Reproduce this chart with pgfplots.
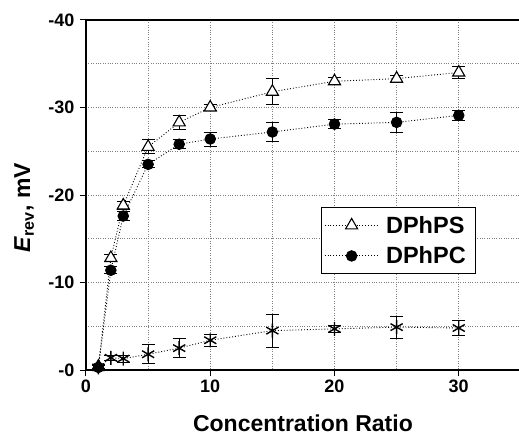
\documentclass[border=0pt]{standalone}
\usepackage{fontspec}
\setmainfont{Liberation Sans}
\usepackage{pgfplots}
\pgfplotsset{compat=1.18}
\usetikzlibrary{calc}
\begin{document}
\begin{tikzpicture}
\begin{axis}[
  scale only axis, width=433pt, height=350pt,
  xmin=0, xmax=34.85, ymin=-40, ymax=0, y dir=reverse,
  axis x line*=box, axis y line*=left,
  axis line style={line width=1.1pt},
  xtick={0,10,20,30}, xticklabels={0,10,20,30},
  minor xtick={5,15,25},
  ytick={-40,-30,-20,-10,0}, yticklabels={-40,-30,-20,-10,-0},
  minor ytick={-35,-25,-15,-5},
  xtick pos=bottom, ytick pos=left,
  tick align=outside, major tick length=6pt, minor tick length=0pt,
  tick style={line width=1pt, black},
  grid=both,
  major grid style={dotted, gray, line width=0.7pt},
  minor grid style={dotted, gray, line width=0.7pt},
  ticklabel style={font=\bfseries\fontsize{18}{20}\selectfont},
  yticklabel style={xshift=-2pt},
  xlabel={Concentration Ratio},
  every axis x label/.style={at={(axis description cs:0.501,-0.176)}, anchor=base,
    font=\bfseries\fontsize{23}{26}\selectfont},
  ylabel={\textbf{\textit{E}\textsubscript{rev}, mV}},
  every axis y label/.style={at={(axis description cs:-0.143,0.464)}, anchor=center, rotate=90,
    font=\bfseries\fontsize{23}{26}\selectfont},
  legend style={at={(axis cs:31.4,-18.6)}, anchor=north east, draw=black, line width=0.8pt,
    font=\bfseries\fontsize{23.5}{26}\selectfont, row sep=5pt, inner xsep=3pt, inner ysep=5pt,
    nodes={inner xsep=7pt, inner ysep=3.5pt}},
  legend cell align=left,
  legend image code/.code={\draw[mark repeat=2,mark phase=2] plot coordinates {(0pt,0pt)(27pt,0pt)(54pt,0pt)};},
]
\coordinate (bl) at (axis description cs:0,0);
\coordinate (tr) at (axis description cs:1,1);

% DPhPS
\addplot[black, dotted, line width=0.9pt, mark=triangle*, mark size=7pt,
  mark options={solid, fill=white, line width=1.1pt},
  error bars/.cd, y dir=both, y explicit,
  error bar style={solid, line width=1pt},
  error mark options={solid, line width=1pt, mark size=6.5pt, rotate=90}]
coordinates {
(1,-0.4) +- (0,0.2)
(2,-12.8) +- (0,0.4)
(3,-18.8) +- (0,0.5)
(5,-25.5) +- (0,0.8)
(7.5,-28.3) +- (0,0.8)
(10,-30.0) +- (0,0.3)
(15,-31.8) +- (0,1.5)
(20,-33.0) +- (0,0.4)
(25,-33.3) +- (0,0.4)
(30,-34.0) +- (0,0.7)
};
\addlegendentry{DPhPS\hspace{6pt}}

% DPhPC
\addplot[black, dotted, line width=0.9pt, mark=*, mark size=5.3pt,
  mark options={solid, fill=black},
  error bars/.cd, y dir=both, y explicit,
  error bar style={solid, line width=1pt},
  error mark options={solid, line width=1pt, mark size=6.5pt, rotate=90}]
coordinates {
(1,-0.3) +- (0,0.2)
(2,-11.4) +- (0,0.4)
(3,-17.6) +- (0,0.5)
(5,-23.5) +- (0,0.4)
(7.5,-25.8) +- (0,0.5)
(10,-26.4) +- (0,0.8)
(15,-27.2) +- (0,1.1)
(20,-28.1) +- (0,0.5)
(25,-28.3) +- (0,1.1)
(30,-29.1) +- (0,0.6)
};
\addlegendentry{DPhPC\hspace{6pt}}

% third series
\addplot[forget plot, black, dotted, line width=0.9pt, mark=asterisk, mark size=7pt,
  mark options={solid, line width=1.4pt},
  error bars/.cd, y dir=both, y explicit,
  error bar style={solid, line width=1pt},
  error mark options={solid, line width=1pt, mark size=6.5pt, rotate=90}]
coordinates {
(1,-0.3) +- (0,0.2)
(2,-1.4) +- (0,0.3)
(3,-1.3) +- (0,0.4)
(5,-1.8) +- (0,1.1)
(7.5,-2.5) +- (0,1.1)
(10,-3.4) +- (0,0.7)
(15,-4.5) +- (0,1.9)
(20,-4.7) +- (0,0.4)
(25,-4.9) +- (0,1.25)
(30,-4.8) +- (0,0.85)
};
\end{axis}
\pgfresetboundingbox
\path[use as bounding box] ($(bl)+(-86pt,-66pt)$) rectangle ($(tr)+(0pt,20pt)$);
\end{tikzpicture}
\end{document}
